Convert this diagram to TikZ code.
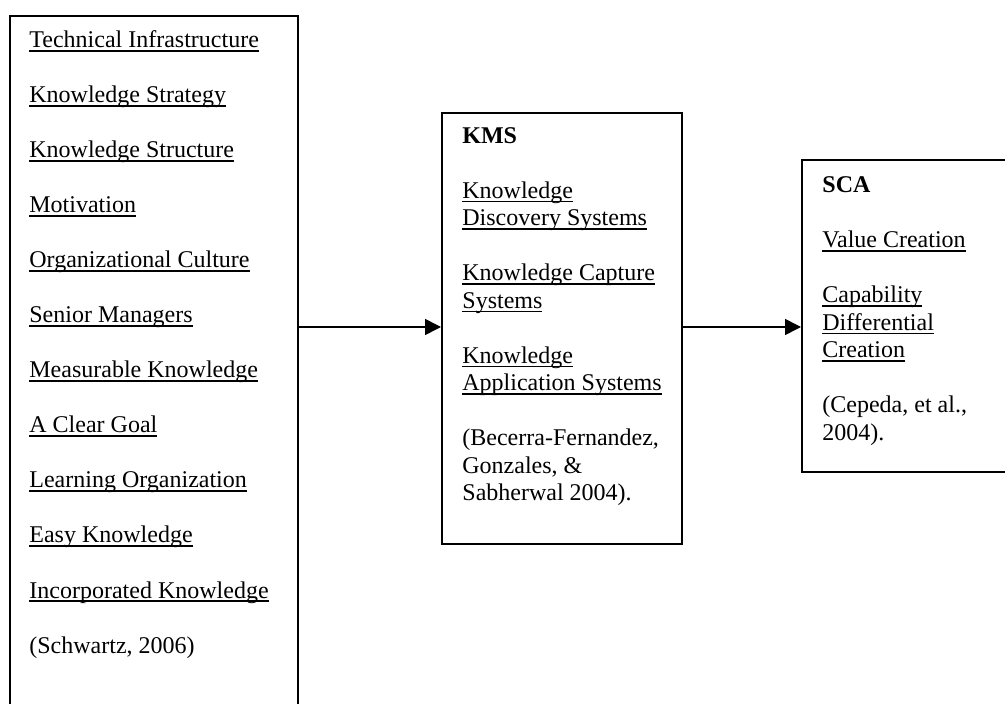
\documentclass[tikz,border=0pt]{standalone}
\usepackage{fontspec}
\setmainfont{Liberation Serif}
\newcommand{\myul}[1]{\leavevmode\setbox0\hbox{#1}\rlap{\vrule height -1.1pt depth 1.8pt width\wd0}\box0}
\usetikzlibrary{arrows.meta}
\tikzset{
  box/.style={draw, line width=0.8pt, inner sep=0pt, anchor=north west},
  txt/.style={anchor=base west, inner sep=0pt, font=\fontsize{12}{13.75}\selectfont},
  arr/.style={line width=0.8pt, -{Triangle[length=8pt,width=8pt]}}
}
\begin{document}
\begin{tikzpicture}[x=0.5pt,y=-0.5pt]
\useasboundingbox (0,0) rectangle (1005,704);
% boxes
\node[box, minimum width=144pt, minimum height=347.5pt] (left) at (9,15) {};
\node[box, minimum width=120pt, minimum height=215.5pt] (kms) at (441,112) {};
\node[box, minimum width=104.5pt, minimum height=156pt] (sca) at (801,159) {};
\coordinate (ay) at (0,327);
% left box texts
\node[txt] (l1) at (29,48) {\myul{Technical Infrastructure}};
\node[txt] (l2) at (29,103) {\myul{Knowledge Strategy}};
\node[txt] (l3) at (29,158) {\myul{Knowledge Structure}};
\node[txt] (l4) at (29,213) {\myul{Motivation}};
\node[txt] (l5) at (29,268) {\myul{Organizational Culture}};
\node[txt] (l6) at (29,323) {\myul{Senior Managers}};
\node[txt] (l7) at (29,378) {\myul{Measurable Knowledge}};
\node[txt] (l8) at (29,433) {\myul{A Clear Goal}};
\node[txt] (l9) at (29,488) {\myul{Learning Organization}};
\node[txt] (l10) at (29,543) {\myul{Easy Knowledge}};
\node[txt] (l11) at (29,598) {\myul{Incorporated Knowledge}};
\node[txt] (l12) at (29,653) {(Schwartz, 2006)};
% KMS box texts
\node[txt] (k0) at (462,143.5) {\textbf{KMS}};
\node[txt] (k1) at (462,198.5) {\myul{Knowledge}};
\node[txt] (k2) at (462,226) {\myul{Discovery Systems}};
\node[txt] (k3) at (462,281) {\myul{Knowledge Capture}};
\node[txt] (k4) at (462,308.5) {\myul{Systems}};
\node[txt] (k5) at (462,363.5) {\myul{Knowledge}};
\node[txt] (k6) at (462,391) {\myul{Application Systems}};
\node[txt] (k7) at (462,446) {(Becerra-Fernandez,};
\node[txt] (k8) at (462,473.5) {Gonzales, \&};
\node[txt] (k9) at (462,501) {Sabherwal 2004).};
% SCA box texts
\node[txt] (s0) at (822,193) {\textbf{SCA}};
\node[txt] (s1) at (822,248) {\myul{Value Creation}};
\node[txt] (s2) at (822,303) {\myul{Capability}};
\node[txt] (s3) at (822,330.5) {\myul{Differential}};
\node[txt] (s4) at (822,358) {\myul{Creation}};
\node[txt] (s5) at (822,413) {(Cepeda, et al.,};
\node[txt] (s6) at (822,440.5) {2004).};
% connectors
\draw[arr] (left.east |- ay) -- (kms.west |- ay);
\draw[arr] (kms.east |- ay) -- (sca.west |- ay);
\end{tikzpicture}
\end{document}
